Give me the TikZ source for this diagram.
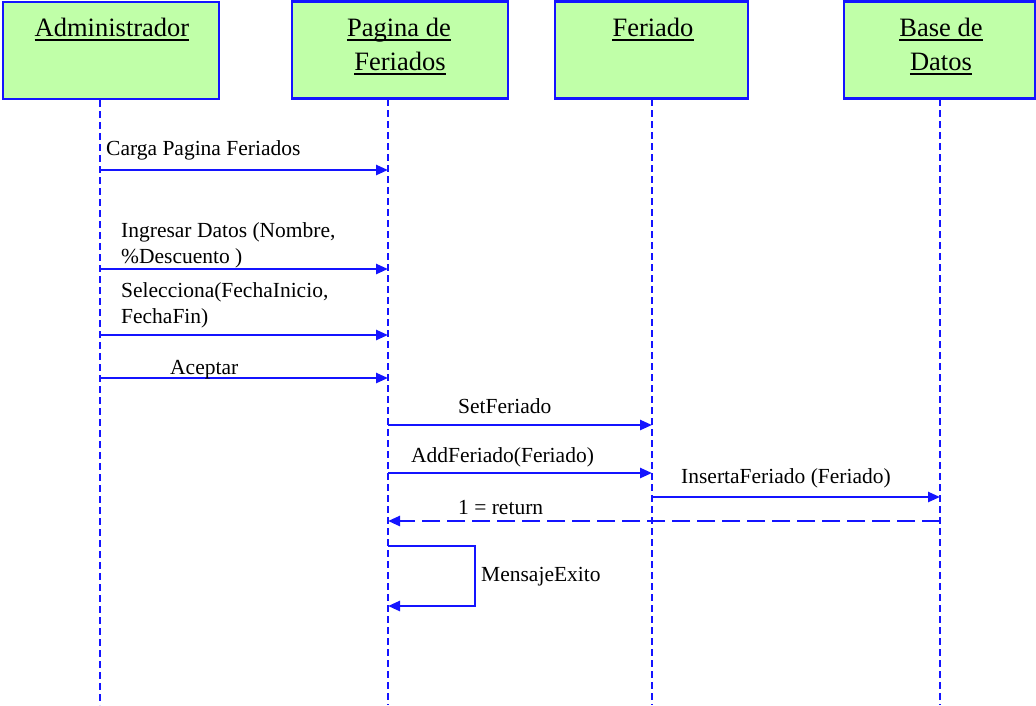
\documentclass[tikz,border=0pt]{standalone}
\usepackage{fontspec}
\setmainfont{Liberation Serif}
\usetikzlibrary{arrows.meta}
\definecolor{boxfill}{RGB}{192,255,168}
\definecolor{umlblue}{RGB}{20,20,255}
\begin{document}
\begin{tikzpicture}[x=1pt,y=-1pt,
  actor/.style={draw=umlblue,fill=boxfill,line width=2.5pt,minimum height=97pt,inner sep=0pt},
  headtxt/.style={anchor=base,inner sep=0pt,font=\fontsize{26.5}{30}\selectfont},
  lifeline/.style={draw=umlblue,line width=2pt,dash pattern=on 7pt off 4pt},
  msg/.style={draw=umlblue,line width=2.5pt,-{Triangle[length=12pt,width=10pt]}},
  ret/.style={draw=umlblue,line width=2.5pt,dash pattern=on 18pt off 7pt,-{Triangle[length=12pt,width=10pt]}},
  msgtxt/.style={anchor=base west,inner sep=0pt,font=\fontsize{21.5}{25}\selectfont},
  uline/.style={draw=black,line width=2pt}]
\useasboundingbox (0,0) rectangle (1036,705);

% actor boxes
\node[actor,minimum width=216pt] (bA) at (111,50.5) {};
\node[actor,minimum width=216pt] (bP) at (400,50) {};
\node[actor,minimum width=193pt] (bF) at (651.5,50) {};
\node[actor,minimum width=191pt] (bB) at (939.5,50) {};

% header texts
\node[headtxt] (tA) at (112,36) {Administrador};
\node[headtxt] (tP1) at (399,36) {Pagina de};
\node[headtxt] (tP2) at (400,70) {Feriados};
\node[headtxt] (tF) at (653,36) {Feriado};
\node[headtxt] (tB1) at (941,36) {Base de};
\node[headtxt] (tB2) at (941,70) {Datos};
\foreach \t in {tA,tP1,tP2,tF,tB1,tB2}
  \draw[uline] ([yshift=-3.5pt]\t.base west) -- ([yshift=-3.5pt]\t.base east);

% lifelines
\coordinate (lA) at (100,100); \coordinate (lAe) at (100,705);
\coordinate (lP) at (388,99);  \coordinate (lPe) at (388,705);
\coordinate (lF) at (652,99);  \coordinate (lFe) at (652,705);
\coordinate (lB) at (940,99);  \coordinate (lBe) at (940,705);
\draw[lifeline] (lA) -- (lAe);
\draw[lifeline] (lP) -- (lPe);
\draw[lifeline] (lF) -- (lFe);
\draw[lifeline] (lB) -- (lBe);

% message anchor points
\coordinate (a1) at (100,170); \coordinate (p1) at (388,170);
\coordinate (a2) at (100,269); \coordinate (p2) at (388,269);
\coordinate (a3) at (100,335); \coordinate (p3) at (388,335);
\coordinate (a4) at (100,378); \coordinate (p4) at (388,378);
\coordinate (p5) at (388,425); \coordinate (f5) at (652,425);
\coordinate (p6) at (388,473); \coordinate (f6) at (652,473);
\coordinate (f7) at (652,497); \coordinate (d7) at (940,497);
\coordinate (d8) at (940,521); \coordinate (p8) at (388,521);
\coordinate (p9) at (388,546); \coordinate (r9) at (475,546);
\coordinate (r9b) at (475,606); \coordinate (p9b) at (388,606);

% messages
\draw[msg] (a1) -- (p1);
\draw[msg] (a2) -- (p2);
\draw[msg] (a3) -- (p3);
\draw[msg] (a4) -- (p4);
\draw[msg] (p5) -- (f5);
\draw[msg] (p6) -- (f6);
\draw[msg] (f7) -- (d7);
\draw[ret] (d8) -- (p8);
\draw[msg] (p9) -- (r9) -- (r9b) -- (p9b);

% labels
\node[msgtxt] (m1) at (106,155) {Carga Pagina Feriados};
\node[msgtxt] (m2a) at (121,237) {Ingresar Datos (Nombre,};
\node[msgtxt] (m2b) at (121,263) {\%Descuento )};
\node[msgtxt] (m3a) at (121,297) {Selecciona(FechaInicio,};
\node[msgtxt] (m3b) at (121,323) {FechaFin)};
\node[msgtxt] (m4) at (170,374) {Aceptar};
\node[msgtxt] (m5) at (458,413) {SetFeriado};
\node[msgtxt] (m6) at (411,462) {AddFeriado(Feriado)};
\node[msgtxt] (m7) at (681,483) {InsertaFeriado (Feriado)};
\node[msgtxt] (m8) at (458,514) {1 = return};
\node[msgtxt] (m9) at (481,581) {MensajeExito};
\end{tikzpicture}
\end{document}
